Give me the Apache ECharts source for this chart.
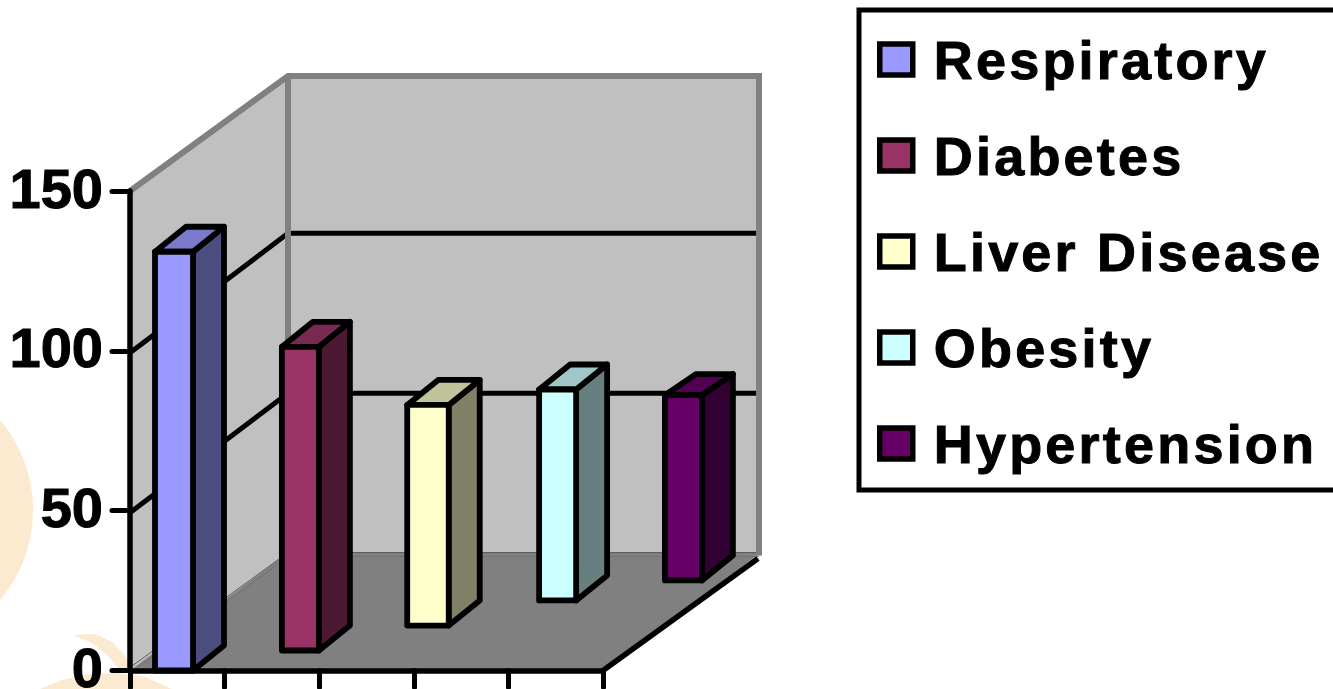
<!DOCTYPE html>
<html>
<head>
<meta charset="utf-8">
<title>Conditions</title>
<style>
  html, body { margin: 0; padding: 0; background: #fff; overflow: hidden; }
  #chart { width: 1333px; height: 689px; }
  /* the legend type is tracked out */
  #chart text[style*="54px"] { letter-spacing: 3.2px; }
</style>
<script src="https://cdn.jsdelivr.net/npm/echarts@6/dist/echarts.min.js"></script>
</head>
<body>
<div id="chart"></div>
<script>
// Chart values
const categories = ['Respiratory', 'Diabetes', 'Liver Disease', 'Obesity', 'Hypertension'];
const values = [131, 95, 69, 66, 58];
const depthRank = [0, 0.174, 0.391, 0.609, 0.783];
const yTicks = [0, 50, 100, 150];

// Box drawing
const frontColors = ['#9999ff', '#993366', '#ffffcc', '#ccffff', '#660066'];
const sideColors = ['#4d4d80', '#4c1933', '#808066', '#668080', '#330033'];
const topColors = ['#7a7acc', '#7a2952', '#c2c29b', '#9fc7c7', '#520052'];
const frontWidths = [38, 37, 41.5, 37, 37];
const columnNudge = [-3.3, 1, -0.3, 0.3, 4];
const lidRise = [25, 25, 25, 25, 21];
const DEPTH_X = 158, DEPTH_Y = 115;
const BOX_X = 31, BOX_Y = 25;
const INK = '#000';

function poly(points, fill, stroke, width) {
  return {
    type: 'polygon',
    shape: { points },
    style: { fill, stroke: stroke || 'none', lineWidth: width || 0, lineJoin: 'round' }
  };
}
function polyline(points, stroke, width) {
  return {
    type: 'polyline',
    shape: { points },
    style: { fill: 'none', stroke, lineWidth: width, lineJoin: 'miter' }
  };
}

// Walls, floor and gridlines of the chart box
function renderBox(params, api) {
  const [x0, y0] = api.coord([0, 0]);
  const left = params.coordSys.x;
  const right = left + params.coordSys.width;
  const yTop = api.coord([0, yTicks[yTicks.length - 1]])[1];
  const backL = left + DEPTH_X, backR = right + DEPTH_X;
  const yBack = y0 - DEPTH_Y, yBackTop = yTop - DEPTH_Y;
  const kids = [];
  kids.push(poly([[left, yTop], [backL, yBackTop], [backR, yBackTop], [backR, yBack], [backL, yBack], [left, y0]], '#c0c0c0'));
  kids.push(poly([[left, y0], [backL, yBack - 3], [backR, yBack - 3], [right, y0]], '#808080'));
  kids.push(polyline([[left, y0 - 3], [backL, yBack - 3], [backR, yBack - 3]], '#5c5c5c', 1));
  kids.push(polyline([[left + 4, y0], [backL, yBack + 1], [backR - 2, yBack + 1]], '#707070', 0.8));
  yTicks.slice(1, -1).forEach(function (t) {
    const y = api.coord([0, t])[1];
    kids.push(polyline([[left, y + 2], [backL, y - DEPTH_Y - 2.5], [backR - 3, y - DEPTH_Y - 2.5]], INK, 5));
  });
  kids.push(polyline([[left, yTop], [backL, yBackTop], [backR - 2, yBackTop], [backR - 2, yBack]], '#808080', 6));
  kids.push(polyline([[backL, yBackTop], [backL, yBack]], '#808080', 6));
  kids.push(polyline([[right, y0], [backR - 3, yBack + 3]], INK, 5.5));
  return { type: 'group', children: kids };
}

// One column: front face, side face and lid
function renderColumn(params, api) {
  const i = api.value(0);
  const base = api.coord([i, 0]);
  const head = api.coord([i, api.value(1)]);
  const d = depthRank[i];
  const w = frontWidths[i];
  const l = base[0] + d * DEPTH_X + columnNudge[i] - w / 2;
  const r = l + w;
  const b = base[1] - d * DEPTH_Y;
  const t = head[1] - d * DEPTH_Y;
  const rise = lidRise[i];
  return {
    type: 'group',
    children: [
      poly([[r, t], [r + BOX_X, t - rise], [r + BOX_X, b - BOX_Y], [r, b]], sideColors[i], INK, 5.8),
      poly([[l, t], [l + BOX_X, t - rise], [r + BOX_X, t - rise], [r, t]], topColors[i], INK, 5.8),
      poly([[l, t], [r, t], [r, b], [l, b]], frontColors[i], INK, 5.8)
    ]
  };
}

const columnSeries = categories.map(function (name, i) {
  return {
    type: 'custom',
    name,
    z: 8 - i,
    renderItem: renderColumn,
    encode: { x: 0, y: 1 },
    itemStyle: { color: frontColors[i] },
    data: [[i, values[i]]]
  };
});

const chart = echarts.init(document.getElementById('chart'), null, { renderer: 'svg' });
chart.setOption({
  animation: false,
  backgroundColor: '#fff',
  grid: { left: 130, right: 730, top: 191, bottom: 18.5, containLabel: false, outerBoundsMode: 'none' },
  xAxis: {
    type: 'category',
    z: 3,
    data: categories,
    boundaryGap: true,
    axisLine: { lineStyle: { color: INK, width: 5.5 } },
    axisTick: { show: true, length: 17, lineStyle: { color: INK, width: 5, cap: 'round' } },
    axisLabel: { show: false },
    splitLine: { show: false }
  },
  yAxis: {
    type: 'value',
    z: 3,
    min: 0,
    max: 150,
    interval: 50,
    axisLine: { show: true, lineStyle: { color: INK, width: 5.5 } },
    axisTick: { show: true, length: 18, lineStyle: { color: INK, width: 5, cap: 'round' } },
    axisLabel: {
      margin: 27,
      formatter: '{n|{value}}',
      rich: {
        n: {
          color: INK,
          fontFamily: '"Liberation Sans", Arial, sans-serif',
          fontWeight: 'bold',
          fontSize: 56,
          textBorderColor: INK,
          textBorderWidth: 1,
          padding: [0, 0, 6, 0]
        }
      }
    },
    splitLine: { show: false }
  },
  legend: {
    data: categories,
    orient: 'vertical',
    left: 859,
    top: 10,
    icon: 'rect',
    itemWidth: 33,
    itemHeight: 31,
    itemGap: 41,
    padding: [22, 80, 19, 18],
    borderColor: INK,
    borderWidth: 5,
    backgroundColor: '#fff',
    selectedMode: false,
    itemStyle: { borderColor: INK, borderWidth: 5.5 },
    textStyle: {
      color: INK,
      fontFamily: '"Liberation Sans", Arial, sans-serif',
      fontWeight: 'bold',
      fontSize: 54,
      textBorderColor: INK,
      textBorderWidth: 1,
      padding: [0, 0, 0, 16]
    }
  },
  // Faded emblem behind the plot
  graphic: {
    elements: [
      { type: 'circle', z: -5, shape: { cx: -106, cy: 510, r: 139 }, style: { fill: '#fbe9d0' } },
      { type: 'polygon', z: -5, shape: { points: [[73, 635], [95, 634], [112, 642], [124, 654], [132, 668], [118, 668], [108, 656], [92, 643]] }, style: { fill: '#fbe9d0' } },
      { type: 'polygon', z: -5, shape: { points: [[40, 689], [62, 680], [90, 674], [118, 673], [145, 677], [172, 689]] }, style: { fill: '#fbe9d0' } }
    ]
  },
  series: [
    { type: 'custom', name: 'box', z: -1, silent: true, renderItem: renderBox, encode: { x: 0, y: 1 }, data: [[0, 0]] }
  ].concat(columnSeries)
});
</script>
</body>
</html>
